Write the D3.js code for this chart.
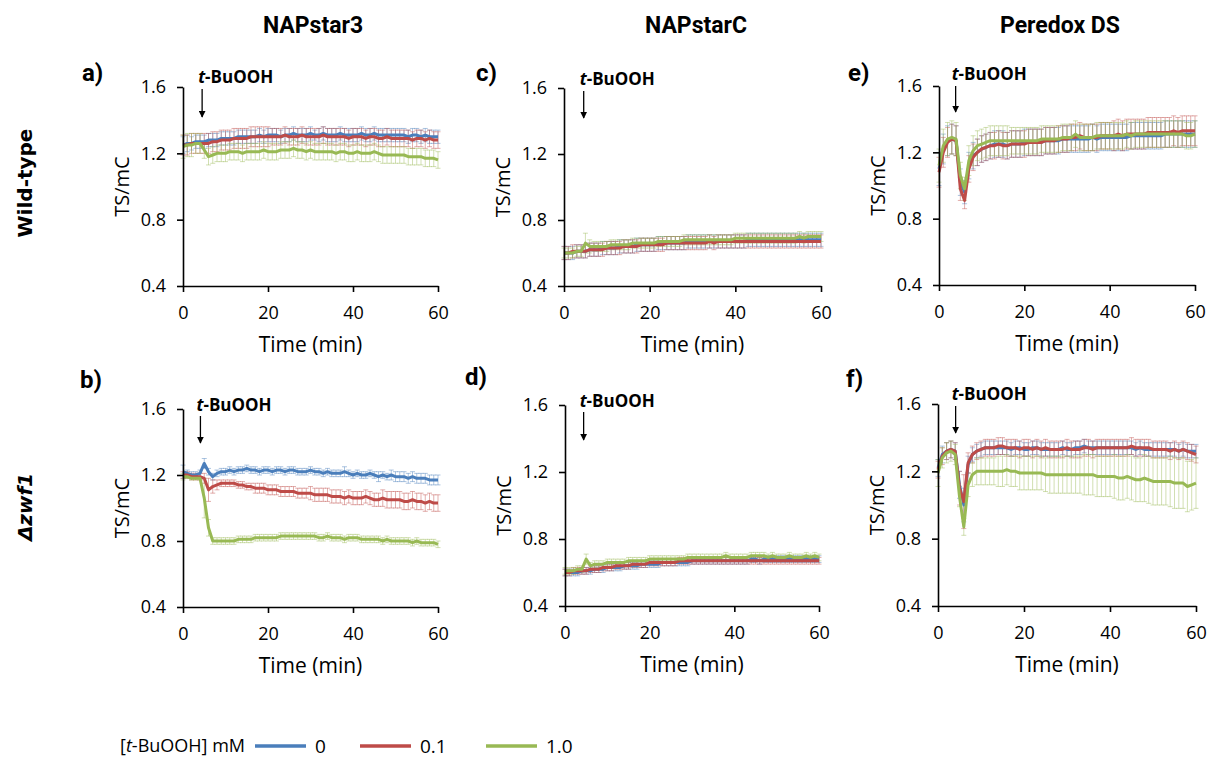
<!DOCTYPE html>
<html>
<head>
<meta charset="utf-8">
<script src="https://cdn.jsdelivr.net/npm/d3@7"></script>
<style>
  body { margin: 0; background: #fff; }
  svg { display: block; }
  text { font-family: "Open Sans", sans-serif; fill: #000; }
</style>
</head>
<body>
<svg class="fig" width="1215" height="763"></svg>
<script>
// time points (min)
var time = [0,1,2,3,4,5,6,7,8,9,10,
  11,12,13,14,15,16,17,18,19,20,
  21,22,23,24,25,26,27,28,29,30,
  31,32,33,34,35,36,37,38,39,40,
  41,42,43,44,45,46,47,48,49,50,
  51,52,53,54,55,56,57,58,59,60];

var concLabels = ['0', '0.1', '1.0'];
var sensors = ['NAPstar3', 'NAPstarC', 'Peredox DS'];
var strains = ['Wild-type', 'Δzwf1'];
var xTicks = [0, 20, 40, 60];
var yTicks = [0.4, 0.8, 1.2, 1.6];
// time of t-BuOOH addition per panel (a..f)
var addTime = [4.5, 4.1, 4.6, 4.4, 3.9, 4.1];

// ---- a) NAPstar3, wild-type
var nap3Wt0 = [1.25,1.26,1.26,1.27,1.27,1.27,1.28,1.28,1.28,1.29,1.29,
  1.29,1.29,1.30,1.30,1.30,1.30,1.30,1.31,1.30,1.31,
  1.31,1.31,1.30,1.31,1.31,1.32,1.31,1.31,1.31,1.32,
  1.31,1.31,1.32,1.31,1.31,1.31,1.32,1.31,1.31,1.31,
  1.31,1.32,1.31,1.31,1.32,1.31,1.31,1.31,1.31,1.31,
  1.31,1.31,1.30,1.31,1.31,1.30,1.31,1.30,1.30,1.30];
var nap3Wt0Sd = [.05,.05,.04,.04,.04,.04,.04,.04,.04,.04,.04,
  .04,.04,.04,.04,.04,.04,.04,.04,.04,.04,
  .04,.04,.04,.04,.04,.04,.04,.04,.04,.04,
  .03,.04,.04,.04,.04,.04,.04,.04,.04,.04,
  .04,.04,.04,.04,.04,.04,.04,.04,.04,.04,
  .04,.04,.04,.04,.04,.04,.04,.04,.04,.04];
var nap3Wt01 = [1.25,1.25,1.26,1.26,1.26,1.26,1.26,1.27,1.27,1.28,1.28,
  1.28,1.29,1.29,1.29,1.29,1.30,1.30,1.30,1.30,1.30,
  1.30,1.30,1.30,1.31,1.30,1.30,1.30,1.31,1.30,1.30,
  1.30,1.30,1.31,1.30,1.30,1.30,1.30,1.30,1.29,1.30,
  1.30,1.30,1.29,1.30,1.30,1.29,1.29,1.30,1.29,1.29,
  1.29,1.29,1.29,1.28,1.29,1.29,1.28,1.29,1.28,1.28];
var nap3Wt01Sd = [.06,.06,.06,.06,.06,.06,.06,.06,.06,.06,.06,
  .06,.06,.06,.06,.06,.06,.06,.06,.06,.06,
  .05,.05,.05,.05,.05,.05,.05,.05,.05,.05,
  .05,.05,.05,.05,.05,.05,.05,.05,.05,.05,
  .05,.05,.05,.05,.05,.05,.05,.05,.05,.05,
  .05,.05,.05,.05,.05,.05,.05,.05,.05,.05];
var nap3Wt10 = [1.24,1.25,1.25,1.26,1.26,1.22,1.18,1.19,1.20,1.20,1.20,
  1.21,1.21,1.21,1.20,1.21,1.21,1.21,1.21,1.22,1.21,
  1.21,1.21,1.22,1.22,1.22,1.23,1.22,1.22,1.21,1.22,
  1.21,1.21,1.21,1.21,1.21,1.20,1.21,1.21,1.20,1.20,
  1.21,1.20,1.20,1.20,1.21,1.20,1.19,1.19,1.19,1.19,
  1.19,1.19,1.18,1.18,1.18,1.18,1.17,1.17,1.17,1.16];
var nap3Wt10Sd = [.07,.07,.07,.06,.06,.05,.05,.05,.05,.05,.05,
  .05,.05,.05,.05,.05,.05,.05,.05,.05,.05,
  .05,.05,.05,.05,.05,.05,.05,.05,.05,.05,
  .05,.05,.05,.05,.05,.05,.05,.05,.05,.05,
  .05,.05,.05,.05,.05,.05,.05,.05,.05,.05,
  .05,.05,.05,.05,.05,.05,.05,.05,.05,.05];

// ---- b) NAPstar3, zwf1
var nap3Zwf0 = [1.22,1.21,1.20,1.20,1.21,1.27,1.22,1.19,1.21,1.22,1.22,
  1.23,1.22,1.23,1.23,1.24,1.23,1.23,1.22,1.23,1.23,
  1.22,1.23,1.23,1.22,1.23,1.23,1.22,1.22,1.22,1.23,
  1.22,1.22,1.21,1.22,1.21,1.21,1.21,1.22,1.21,1.20,
  1.21,1.20,1.20,1.21,1.20,1.19,1.20,1.19,1.20,1.19,
  1.19,1.19,1.18,1.19,1.18,1.18,1.18,1.17,1.17,1.17];
var nap3Zwf0Sd = [.04,.02,.02,.02,.02,.03,.02,.02,.02,.02,.02,
  .02,.02,.02,.02,.02,.02,.02,.02,.02,.02,
  .02,.02,.02,.02,.02,.02,.02,.02,.02,.02,
  .02,.02,.02,.02,.02,.02,.02,.03,.02,.02,
  .02,.02,.02,.02,.02,.03,.02,.02,.03,.03,
  .03,.03,.03,.03,.03,.03,.03,.03,.03,.03];
var nap3Zwf01 = [1.20,1.20,1.19,1.19,1.19,1.18,1.11,1.13,1.14,1.15,1.15,
  1.15,1.15,1.14,1.14,1.13,1.13,1.12,1.12,1.12,1.11,
  1.11,1.11,1.10,1.10,1.10,1.10,1.09,1.09,1.09,1.09,
  1.08,1.08,1.08,1.08,1.07,1.07,1.07,1.06,1.07,1.06,
  1.06,1.06,1.07,1.06,1.05,1.05,1.06,1.05,1.05,1.05,
  1.05,1.04,1.04,1.05,1.04,1.04,1.03,1.04,1.03,1.03];
var nap3Zwf01Sd = [.02,.02,.02,.02,.02,.03,.07,.04,.03,.02,.02,
  .02,.02,.02,.02,.02,.02,.03,.03,.03,.03,
  .03,.03,.03,.03,.03,.03,.03,.03,.03,.04,
  .04,.04,.04,.04,.04,.04,.04,.04,.04,.04,
  .04,.04,.04,.04,.04,.04,.05,.05,.05,.05,
  .05,.05,.05,.05,.05,.05,.05,.05,.05,.05];
var nap3Zwf10 = [1.19,1.19,1.18,1.18,1.18,1.06,0.88,0.80,0.80,0.80,0.80,
  0.80,0.80,0.81,0.81,0.81,0.81,0.82,0.82,0.82,0.82,
  0.82,0.82,0.83,0.83,0.83,0.83,0.83,0.83,0.83,0.83,
  0.83,0.82,0.82,0.83,0.82,0.82,0.82,0.81,0.82,0.82,
  0.82,0.81,0.81,0.81,0.81,0.81,0.80,0.81,0.80,0.80,
  0.80,0.80,0.80,0.79,0.80,0.79,0.79,0.79,0.79,0.78];
var nap3Zwf10Sd = [.02,.01,.01,.01,.01,.12,.05,.02,.02,.02,.02,
  .02,.02,.02,.02,.02,.02,.02,.02,.02,.02,
  .02,.02,.02,.02,.02,.02,.02,.02,.02,.02,
  .02,.02,.02,.02,.02,.02,.02,.02,.02,.02,
  .02,.02,.02,.02,.02,.02,.02,.02,.02,.02,
  .02,.02,.02,.02,.02,.02,.02,.02,.02,.02];

// ---- c) NAPstarC, wild-type
var napCWt0 = [0.60,0.60,0.60,0.61,0.61,0.61,0.62,0.62,0.62,0.63,0.63,
  0.63,0.63,0.64,0.64,0.64,0.64,0.65,0.65,0.65,0.65,
  0.65,0.66,0.66,0.66,0.66,0.66,0.66,0.66,0.67,0.67,
  0.67,0.67,0.67,0.67,0.67,0.67,0.67,0.67,0.67,0.67,
  0.67,0.67,0.68,0.68,0.68,0.68,0.68,0.68,0.68,0.68,
  0.68,0.68,0.68,0.68,0.68,0.68,0.68,0.68,0.68,0.68];
var napCWt0Sd = [.04,.04,.04,.04,.04,.04,.04,.04,.04,.04,.04,
  .04,.04,.04,.04,.04,.04,.04,.04,.04,.04,
  .04,.04,.04,.04,.04,.04,.04,.04,.04,.04,
  .04,.04,.04,.04,.04,.04,.04,.04,.04,.04,
  .04,.04,.04,.04,.04,.04,.04,.04,.04,.04,
  .04,.04,.04,.04,.04,.04,.04,.04,.04,.04];
var napCWt01 = [0.60,0.60,0.61,0.61,0.61,0.61,0.62,0.62,0.62,0.62,0.63,
  0.63,0.63,0.63,0.64,0.64,0.64,0.64,0.65,0.65,0.65,
  0.65,0.65,0.65,0.66,0.66,0.66,0.66,0.66,0.66,0.66,
  0.66,0.66,0.66,0.67,0.66,0.67,0.67,0.67,0.67,0.67,
  0.67,0.67,0.67,0.67,0.67,0.67,0.67,0.67,0.67,0.67,
  0.67,0.67,0.67,0.67,0.67,0.67,0.67,0.67,0.67,0.67];
var napCWt01Sd = [.04,.04,.04,.04,.04,.04,.04,.04,.04,.04,.04,
  .04,.04,.04,.04,.04,.04,.04,.04,.04,.04,
  .04,.04,.04,.04,.04,.04,.04,.04,.04,.04,
  .04,.04,.04,.04,.04,.04,.04,.04,.04,.04,
  .04,.04,.04,.04,.04,.04,.04,.04,.04,.04,
  .04,.04,.04,.04,.04,.04,.04,.04,.04,.04];
var napCWt10 = [0.60,0.60,0.60,0.61,0.61,0.66,0.64,0.64,0.64,0.64,0.64,
  0.65,0.65,0.65,0.65,0.65,0.66,0.66,0.66,0.66,0.66,
  0.66,0.67,0.67,0.67,0.67,0.67,0.67,0.68,0.68,0.68,
  0.68,0.68,0.68,0.68,0.68,0.68,0.68,0.68,0.68,0.69,
  0.69,0.69,0.69,0.69,0.69,0.69,0.69,0.69,0.69,0.69,
  0.69,0.69,0.69,0.69,0.70,0.69,0.70,0.70,0.70,0.70];
var napCWt10Sd = [.03,.03,.03,.03,.03,.06,.04,.03,.03,.03,.03,
  .03,.03,.03,.03,.03,.03,.03,.03,.03,.03,
  .03,.03,.03,.03,.03,.03,.03,.03,.03,.03,
  .03,.03,.03,.03,.03,.03,.03,.03,.03,.03,
  .03,.03,.03,.03,.03,.03,.03,.03,.03,.03,
  .03,.03,.03,.03,.03,.03,.03,.03,.03,.03];

// ---- d) NAPstarC, zwf1
var napCZwf0 = [0.60,0.60,0.60,0.60,0.61,0.61,0.61,0.62,0.62,0.62,0.63,
  0.63,0.63,0.63,0.64,0.64,0.64,0.64,0.65,0.65,0.65,
  0.65,0.65,0.66,0.66,0.66,0.66,0.66,0.66,0.66,0.67,
  0.67,0.67,0.67,0.67,0.67,0.67,0.67,0.67,0.67,0.67,
  0.67,0.67,0.67,0.68,0.68,0.67,0.68,0.68,0.68,0.68,
  0.68,0.68,0.68,0.68,0.68,0.68,0.68,0.68,0.68,0.68];
var napCZwf0Sd = [.02,.02,.02,.02,.02,.02,.02,.02,.02,.02,.02,
  .02,.02,.02,.02,.02,.02,.02,.02,.02,.02,
  .02,.02,.02,.02,.02,.02,.02,.02,.02,.02,
  .02,.02,.02,.02,.02,.02,.02,.02,.02,.02,
  .02,.02,.02,.02,.02,.02,.02,.02,.02,.02,
  .02,.02,.02,.02,.02,.02,.02,.02,.02,.02];
var napCZwf01 = [0.60,0.60,0.61,0.61,0.61,0.61,0.62,0.62,0.62,0.63,0.63,
  0.63,0.64,0.64,0.64,0.64,0.65,0.65,0.65,0.65,0.66,
  0.66,0.66,0.66,0.66,0.66,0.66,0.67,0.67,0.67,0.67,
  0.67,0.67,0.67,0.67,0.67,0.67,0.67,0.67,0.67,0.67,
  0.67,0.67,0.67,0.67,0.67,0.67,0.67,0.67,0.67,0.67,
  0.67,0.67,0.67,0.67,0.67,0.67,0.67,0.67,0.67,0.67];
var napCZwf01Sd = [.02,.02,.02,.02,.02,.02,.02,.02,.02,.02,.02,
  .02,.02,.02,.02,.02,.02,.02,.02,.02,.02,
  .02,.02,.02,.02,.02,.02,.02,.02,.02,.02,
  .02,.02,.02,.02,.02,.02,.02,.02,.02,.02,
  .02,.02,.02,.02,.02,.02,.02,.02,.02,.02,
  .02,.02,.02,.02,.02,.02,.02,.02,.02,.02];
var napCZwf10 = [0.61,0.61,0.61,0.62,0.62,0.68,0.64,0.65,0.65,0.65,0.66,
  0.66,0.66,0.66,0.66,0.67,0.67,0.67,0.67,0.67,0.68,
  0.68,0.68,0.68,0.68,0.68,0.68,0.68,0.68,0.69,0.69,
  0.69,0.69,0.69,0.69,0.69,0.69,0.69,0.70,0.69,0.69,
  0.69,0.69,0.69,0.70,0.70,0.70,0.70,0.69,0.70,0.69,
  0.69,0.69,0.70,0.69,0.69,0.69,0.70,0.69,0.70,0.69];
var napCZwf10Sd = [.02,.02,.02,.02,.02,.03,.02,.02,.02,.02,.02,
  .02,.02,.02,.02,.02,.02,.02,.02,.02,.02,
  .02,.02,.02,.02,.02,.02,.02,.02,.02,.02,
  .02,.02,.02,.02,.02,.02,.02,.02,.02,.02,
  .02,.02,.02,.02,.02,.02,.02,.02,.02,.02,
  .02,.02,.02,.02,.02,.02,.02,.02,.02,.02];

// ---- e) Peredox DS, wild-type
var perWt0 = [1.10,1.22,1.27,1.28,1.27,1.02,0.96,1.12,1.18,1.20,1.22,
  1.23,1.24,1.25,1.25,1.25,1.24,1.25,1.25,1.25,1.26,
  1.26,1.26,1.26,1.26,1.27,1.27,1.27,1.27,1.28,1.28,
  1.28,1.28,1.28,1.28,1.28,1.29,1.28,1.29,1.29,1.29,
  1.29,1.29,1.29,1.29,1.30,1.30,1.30,1.30,1.30,1.30,
  1.30,1.30,1.31,1.31,1.31,1.31,1.31,1.31,1.31,1.31];
var perWt0Sd = [.10,.09,.09,.09,.09,.08,.07,.08,.08,.08,.08,
  .08,.08,.08,.08,.08,.08,.08,.08,.08,.08,
  .08,.08,.08,.08,.08,.08,.08,.08,.08,.08,
  .08,.08,.08,.08,.08,.08,.08,.08,.08,.08,
  .08,.08,.08,.08,.08,.08,.08,.08,.08,.08,
  .08,.08,.08,.08,.08,.08,.08,.08,.08,.08];
var perWt01 = [1.08,1.20,1.26,1.28,1.27,0.98,0.91,1.10,1.17,1.20,1.22,
  1.23,1.24,1.24,1.25,1.24,1.24,1.25,1.25,1.25,1.25,
  1.26,1.26,1.26,1.26,1.27,1.27,1.27,1.28,1.28,1.28,
  1.29,1.29,1.30,1.29,1.29,1.29,1.29,1.30,1.30,1.30,
  1.30,1.31,1.30,1.31,1.31,1.31,1.31,1.31,1.32,1.32,
  1.32,1.32,1.32,1.32,1.33,1.32,1.33,1.33,1.33,1.33];
var perWt01Sd = [.09,.09,.09,.09,.09,.07,.05,.08,.08,.08,.08,
  .08,.08,.08,.08,.08,.08,.08,.08,.08,.08,
  .08,.08,.08,.08,.08,.08,.08,.08,.08,.08,
  .08,.08,.08,.08,.08,.08,.08,.08,.08,.08,
  .09,.09,.09,.09,.09,.09,.09,.09,.09,.09,
  .09,.09,.09,.09,.09,.09,.09,.09,.09,.09];
var perWt10 = [1.12,1.24,1.28,1.29,1.28,1.06,0.98,1.15,1.21,1.24,1.25,
  1.26,1.27,1.27,1.27,1.27,1.27,1.27,1.27,1.27,1.27,
  1.27,1.27,1.27,1.28,1.28,1.28,1.28,1.28,1.29,1.29,
  1.29,1.31,1.29,1.29,1.29,1.29,1.30,1.30,1.30,1.30,
  1.30,1.30,1.30,1.31,1.30,1.31,1.31,1.31,1.31,1.31,
  1.31,1.31,1.31,1.31,1.31,1.31,1.31,1.30,1.30,1.31];
var perWt10Sd = [.10,.10,.10,.10,.10,.08,.07,.09,.09,.09,.09,
  .09,.09,.09,.09,.09,.09,.08,.08,.08,.08,
  .08,.08,.08,.08,.08,.08,.08,.08,.08,.08,
  .08,.08,.08,.08,.08,.08,.08,.08,.08,.08,
  .08,.08,.08,.08,.08,.08,.08,.08,.08,.08,
  .08,.08,.08,.08,.08,.08,.08,.08,.08,.08];

// ---- f) Peredox DS, zwf1
var perZwf0 = [1.22,1.30,1.32,1.33,1.32,1.12,1.00,1.24,1.30,1.32,1.33,
  1.34,1.34,1.34,1.34,1.34,1.34,1.33,1.34,1.34,1.33,
  1.33,1.34,1.34,1.33,1.33,1.33,1.33,1.33,1.34,1.33,
  1.33,1.34,1.34,1.35,1.34,1.34,1.34,1.34,1.34,1.34,
  1.34,1.34,1.34,1.34,1.34,1.33,1.34,1.33,1.33,1.33,
  1.33,1.33,1.33,1.33,1.33,1.32,1.33,1.32,1.32,1.32];
var perZwf0Sd = [.05,.05,.05,.05,.05,.08,.10,.05,.04,.04,.04,
  .04,.04,.04,.04,.04,.04,.04,.04,.04,.04,
  .04,.04,.04,.04,.04,.04,.04,.04,.04,.04,
  .04,.04,.04,.04,.04,.04,.04,.04,.04,.04,
  .04,.04,.04,.04,.04,.04,.04,.04,.04,.04,
  .04,.04,.04,.04,.04,.04,.04,.04,.04,.04];
var perZwf01 = [1.21,1.29,1.32,1.33,1.32,1.10,1.02,1.25,1.30,1.32,1.33,
  1.34,1.34,1.34,1.35,1.35,1.34,1.34,1.34,1.33,1.34,
  1.34,1.33,1.34,1.33,1.34,1.33,1.33,1.33,1.33,1.34,
  1.33,1.33,1.33,1.34,1.34,1.33,1.34,1.34,1.34,1.34,
  1.34,1.34,1.34,1.34,1.35,1.34,1.34,1.34,1.34,1.33,
  1.33,1.33,1.33,1.32,1.33,1.32,1.33,1.32,1.31,1.30];
var perZwf01Sd = [.05,.05,.05,.05,.05,.10,.16,.06,.05,.05,.05,
  .05,.05,.05,.05,.05,.05,.05,.05,.05,.05,
  .05,.05,.05,.05,.05,.05,.05,.05,.05,.05,
  .05,.05,.05,.05,.05,.05,.05,.05,.05,.05,
  .05,.05,.05,.05,.05,.05,.05,.05,.05,.05,
  .05,.05,.05,.05,.05,.05,.05,.05,.05,.05];
var perZwf10 = [1.19,1.28,1.31,1.32,1.30,1.05,0.87,1.12,1.18,1.20,1.20,
  1.20,1.20,1.20,1.20,1.20,1.21,1.20,1.20,1.19,1.19,
  1.19,1.19,1.19,1.19,1.18,1.18,1.18,1.18,1.18,1.18,
  1.18,1.18,1.18,1.18,1.18,1.18,1.17,1.17,1.17,1.17,
  1.17,1.16,1.16,1.17,1.16,1.15,1.15,1.16,1.15,1.14,
  1.14,1.14,1.14,1.14,1.13,1.13,1.13,1.11,1.12,1.13];
var perZwf10Sd = [.08,.06,.06,.06,.06,.06,.05,.07,.07,.08,.08,
  .08,.08,.08,.09,.09,.09,.09,.09,.10,.10,
  .10,.10,.10,.10,.10,.11,.11,.11,.11,.11,
  .11,.11,.11,.12,.12,.12,.12,.12,.12,.12,
  .13,.13,.13,.13,.13,.13,.13,.14,.14,.14,
  .14,.14,.14,.15,.15,.15,.15,.15,.15,.15];

var colors = ['#4a7ebb', '#be4b48', '#98b954'];

// panel layout: plot box in pixels
var panels = [
  {tag: 'a)', lx: 82,  ly: 81,  x0: 183, x1: 438, y0: 87,  y1: 286, annY: 83,  arrTop: 89,  arrTip: 117,
    mean: [nap3Wt0, nap3Wt01, nap3Wt10], sd: [nap3Wt0Sd, nap3Wt01Sd, nap3Wt10Sd]},
  {tag: 'b)', lx: 80,  ly: 388, x0: 183, x1: 438, y0: 409, y1: 607, annY: 411, arrTop: 416, arrTip: 443,
    mean: [nap3Zwf0, nap3Zwf01, nap3Zwf10], sd: [nap3Zwf0Sd, nap3Zwf01Sd, nap3Zwf10Sd]},
  {tag: 'c)', lx: 476, ly: 81,  x0: 564, x1: 821, y0: 88,  y1: 286, annY: 85,  arrTop: 91,  arrTip: 118,
    mean: [napCWt0, napCWt01, napCWt10], sd: [napCWt0Sd, napCWt01Sd, napCWt10Sd]},
  {tag: 'd)', lx: 465, ly: 385, x0: 565, x1: 819, y0: 405, y1: 606, annY: 407, arrTop: 412, arrTip: 440,
    mean: [napCZwf0, napCZwf01, napCZwf10], sd: [napCZwf0Sd, napCZwf01Sd, napCZwf10Sd]},
  {tag: 'e)', lx: 848, ly: 81,  x0: 939, x1: 1195, y0: 86, y1: 285, annY: 80,  arrTop: 86,  arrTip: 112,
    mean: [perWt0, perWt01, perWt10], sd: [perWt0Sd, perWt01Sd, perWt10Sd]},
  {tag: 'f)', lx: 846, ly: 387, x0: 938, x1: 1196, y0: 404, y1: 606, annY: 400, arrTop: 406, arrTip: 433,
    mean: [perZwf0, perZwf01, perZwf10], sd: [perZwf0Sd, perZwf01Sd, perZwf10Sd]}
];

var svg = d3.select('.fig');

svg.append('defs').append('marker')
    .attr('id', 'arrow')
    .attr('viewBox', '0 0 10 10')
    .attr('refX', 9).attr('refY', 5)
    .attr('markerWidth', 7).attr('markerHeight', 7)
    .attr('markerUnits', 'userSpaceOnUse')
    .attr('orient', 'auto')
    .append('path')
    .attr('d', 'M0,0L10,5L0,10z')
    .attr('fill', '#000');

// column headers and row labels
var headerX = [313, 696, 1060];
sensors.forEach(function(s, i) {
  svg.append('text')
      .attr('x', headerX[i]).attr('y', 33)
      .attr('text-anchor', 'middle')
      .style('font-family', 'Roboto')
      .style('font-weight', 'bold')
      .style('font-size', '23px')
      .text(s);
});

svg.append('text')
    .attr('transform', 'translate(32,183)rotate(-90)')
    .attr('text-anchor', 'middle')
    .style('font-family', 'DejaVu Sans')
    .style('font-weight', 'bold')
    .style('font-size', '20px')
    .text(strains[0]);

svg.append('text')
    .attr('transform', 'translate(32,507)rotate(-90)')
    .attr('text-anchor', 'middle')
    .style('font-family', 'DejaVu Sans')
    .style('font-weight', 'bold')
    .style('font-style', 'italic')
    .style('font-size', '20px')
    .text(strains[1]);

panels.forEach(function(p, k) {
  var x = d3.scaleLinear().domain([0, 60]).range([p.x0, p.x1]),
      y = d3.scaleLinear().domain([0.4, 1.6]).range([p.y1, p.y0]);

  var g = svg.append('g').attr('class', 'panel');

  // error bars (behind the lines)
  p.mean.forEach(function(m, i) {
    var rows = time.map(function(t, j) { return {t: t, m: m[j], e: p.sd[i][j]}; });
    var eb = g.append('g')
        .attr('stroke', colors[i])
        .attr('stroke-opacity', 0.45)
        .attr('stroke-width', 1);
    eb.selectAll('.bar').data(rows).enter().append('line')
        .attr('x1', function(d) { return x(d.t); })
        .attr('x2', function(d) { return x(d.t); })
        .attr('y1', function(d) { return y(d.m - d.e); })
        .attr('y2', function(d) { return y(d.m + d.e); });
    eb.selectAll('.capHi').data(rows).enter().append('line')
        .attr('x1', function(d) { return x(d.t) - 2.5; })
        .attr('x2', function(d) { return x(d.t) + 2.5; })
        .attr('y1', function(d) { return y(d.m + d.e); })
        .attr('y2', function(d) { return y(d.m + d.e); });
    eb.selectAll('.capLo').data(rows).enter().append('line')
        .attr('x1', function(d) { return x(d.t) - 2.5; })
        .attr('x2', function(d) { return x(d.t) + 2.5; })
        .attr('y1', function(d) { return y(d.m - d.e); })
        .attr('y2', function(d) { return y(d.m - d.e); });
  });

  // mean lines
  var line = d3.line()
      .x(function(d, j) { return x(time[j]); })
      .y(function(d) { return y(d); });

  p.mean.forEach(function(m, i) {
    g.append('path')
        .datum(m)
        .attr('fill', 'none')
        .attr('stroke', colors[i])
        .attr('stroke-width', 3)
        .attr('stroke-linejoin', 'round')
        .attr('d', line);
  });

  // axes
  var ya = g.append('g')
      .attr('transform', 'translate(' + p.x0 + ',0)')
      .call(d3.axisLeft(y).tickValues(yTicks).tickFormat(d3.format('.1f'))
          .tickSize(6).tickSizeOuter(0).tickPadding(11));
  var xa = g.append('g')
      .attr('transform', 'translate(0,' + p.y1 + ')')
      .call(d3.axisBottom(x).tickValues(xTicks).tickSize(6).tickSizeOuter(0).tickPadding(14));

  [ya, xa].forEach(function(a) {
    a.attr('font-family', 'Open Sans').attr('font-size', 18);
    a.selectAll('path, line').attr('stroke', '#000').attr('stroke-width', 1.6);
    a.selectAll('text').attr('fill', '#000');
  });

  g.append('text')
      .attr('transform', 'translate(' + (p.x0 - 54) + ',' + ((p.y0 + p.y1) / 2) + ')rotate(-90)')
      .attr('text-anchor', 'middle')
      .style('font-size', '20px')
      .text('TS/mC');

  g.append('text')
      .attr('x', (p.x0 + p.x1) / 2)
      .attr('y', p.y1 + 66)
      .attr('text-anchor', 'middle')
      .style('font-size', '21px')
      .text('Time (min)');

  g.append('text')
      .attr('x', p.lx).attr('y', p.ly)
      .style('font-family', 'Roboto')
      .style('font-weight', 'bold')
      .style('font-size', '24px')
      .text(p.tag);

  // t-BuOOH addition marker
  var ax = x(addTime[k]);
  var ann = g.append('text')
      .attr('x', ax - 4).attr('y', p.annY)
      .style('font-weight', 'bold')
      .style('font-size', '17px');
  ann.append('tspan').style('font-style', 'italic').text('t');
  ann.append('tspan').text('-BuOOH');

  g.append('line')
      .attr('x1', ax).attr('x2', ax)
      .attr('y1', p.arrTop).attr('y2', p.arrTip)
      .attr('stroke', '#000')
      .attr('stroke-width', 1.3)
      .attr('marker-end', 'url(#arrow)');
});

// legend
var legend = svg.append('g').attr('class', 'legend');
var lt = legend.append('text')
    .attr('x', 245).attr('y', 752)
    .attr('text-anchor', 'end')
    .style('font-size', '18px');
lt.append('tspan').text('[');
lt.append('tspan').style('font-style', 'italic').text('t');
lt.append('tspan').text('-BuOOH] mM');

var legX = [255, 360, 486];
concLabels.forEach(function(c, i) {
  legend.append('line')
      .attr('x1', legX[i]).attr('x2', legX[i] + 51)
      .attr('y1', 746).attr('y2', 746)
      .attr('stroke', colors[i])
      .attr('stroke-width', 3.5);
  legend.append('text')
      .attr('x', legX[i] + 60).attr('y', 753)
      .style('font-size', '19px')
      .text(c);
});
</script>
</body>
</html>
